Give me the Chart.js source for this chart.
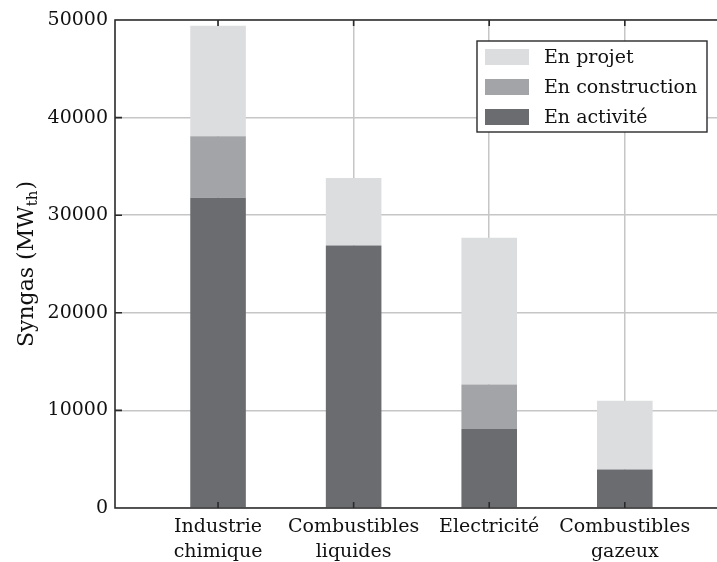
<!DOCTYPE html>
<html>
<head>
<meta charset="utf-8">
<script src="https://cdn.jsdelivr.net/npm/chart.js@4.4.1/dist/chart.umd.min.js"></script>
<style>
  html, body { margin: 0; padding: 0; background: #fff; }
</style>
</head>
<body>
<canvas id="chart" width="717" height="562"></canvas>
<script>
// data
const categories = [['Industrie', 'chimique'], ['Combustibles', 'liquides'], ['Electricité'], ['Combustibles', 'gazeux']];
const enActivite = [31800, 26900, 8100, 3950];
const enConstruction = [6300, 0, 4550, 0];
const enProjet = [11300, 6900, 15050, 7050];
const yTicks = [0, 10000, 20000, 30000, 40000, 50000];
const yTitle = 'Syngas (MW';
const yTitleSub = 'th';

const FONT = 'DejaVu Serif';
const INK = '#111';

function points(values) {
    return values.map((v, i) => ({ x: i + 1, y: v }));
}

// y title with a subscript, rotated
const yTitlePlugin = {
    id: 'yTitle',
    afterDraw(chart) {
        let ctx = chart.ctx, area = chart.chartArea;
        let big = '22px "' + FONT + '"', small = '15px "' + FONT + '"';
        ctx.save();
        ctx.font = big;
        let w1 = ctx.measureText(yTitle).width, w3 = ctx.measureText(')').width;
        ctx.font = small;
        let w2 = ctx.measureText(yTitleSub).width + 1;
        let total = w1 + w2 + w3;
        ctx.translate(33, (area.top + area.bottom) / 2);
        ctx.rotate(-Math.PI / 2);
        ctx.fillStyle = INK;
        ctx.textBaseline = 'alphabetic';
        ctx.textAlign = 'left';
        let x = -total / 2;
        ctx.font = big;
        ctx.fillText(yTitle, x, 0);
        ctx.font = small;
        ctx.fillText(yTitleSub, x + w1, 4);
        ctx.font = big;
        ctx.fillText(')', x + w1 + w2, 0);
        ctx.restore();
    }
};

// spines and inward tick marks
const framePlugin = {
    id: 'frame',
    afterDraw(chart) {
        let ctx = chart.ctx, a = chart.chartArea;
        let xs = chart.scales.x, ys = chart.scales.y;
        ctx.save();
        ctx.strokeStyle = '#2a2a2a';
        ctx.lineWidth = 1.6;
        ctx.beginPath();
        ctx.moveTo(a.right + 2, a.top);
        ctx.lineTo(a.left, a.top);
        ctx.lineTo(a.left, a.bottom);
        ctx.lineTo(a.right + 2, a.bottom);
        yTicks.forEach(v => {
            let py = ys.getPixelForValue(v);
            ctx.moveTo(a.left, py);
            ctx.lineTo(a.left + 7, py);
        });
        categories.forEach((c, i) => {
            let px = xs.getPixelForValue(i + 1);
            ctx.moveTo(px, a.top);
            ctx.lineTo(px, a.top + 6);
            ctx.moveTo(px, a.bottom);
            ctx.lineTo(px, a.bottom - 6);
        });
        ctx.stroke();
        ctx.restore();
    }
};

// boxed legend inside the plot, top right
const legendPlugin = {
    id: 'boxLegend',
    afterDraw(chart) {
        let ctx = chart.ctx, a = chart.chartArea;
        let items = chart.data.datasets.slice().reverse();
        let right = a.right - 10, top = a.top + 21;
        let left = 477, bottom = top + 91;
        ctx.save();
        ctx.fillStyle = '#fff';
        ctx.fillRect(left, top, right - left, bottom - top);
        ctx.strokeStyle = '#2a2a2a';
        ctx.lineWidth = 1.4;
        ctx.strokeRect(left, top, right - left, bottom - top);
        ctx.font = '19px "' + FONT + '"';
        ctx.textBaseline = 'middle';
        ctx.textAlign = 'left';
        items.forEach((ds, i) => {
            let cy = top + 16 + i * 30;
            ctx.fillStyle = ds.backgroundColor;
            ctx.fillRect(left + 8, cy - 8, 44, 16);
            ctx.fillStyle = INK;
            ctx.fillText(ds.label, left + 67, cy + 1);
        });
        ctx.restore();
    }
};

new Chart(document.getElementById('chart'), {
    type: 'bar',
    data: {
        datasets: [
            { label: 'En activité', data: points(enActivite), backgroundColor: '#6b6c70' },
            { label: 'En construction', data: points(enConstruction), backgroundColor: '#a3a4a7' },
            { label: 'En projet', data: points(enProjet), backgroundColor: '#dcdddf' }
        ]
    },
    options: {
        responsive: false,
        animation: false,
        devicePixelRatio: 1,
        layout: { padding: { top: 20, right: 0, left: 0, bottom: 0 } },
        datasets: {
            bar: { barPercentage: 0.41, categoryPercentage: 1, borderWidth: 0 }
        },
        plugins: {
            legend: { display: false },
            tooltip: { enabled: false }
        },
        scales: {
            x: {
                type: 'linear',
                stacked: true,
                offset: false,
                min: 0.24,
                max: 4.68,
                afterBuildTicks: s => { s.ticks = categories.map((c, i) => ({ value: i + 1 })); },
                afterFit: s => { s.height = 54; },
                grid: { color: '#c6c6c6', lineWidth: 1.5, drawTicks: false, offset: false },
                border: { display: false },
                ticks: {
                    padding: 7,
                    color: INK,
                    font: { family: FONT, size: 19, lineHeight: 1.3 },
                    maxRotation: 0,
                    autoSkip: false,
                    callback: v => categories[v - 1] || ''
                }
            },
            y: {
                stacked: true,
                min: 0,
                max: 50000,
                afterBuildTicks: s => { s.ticks = yTicks.map(v => ({ value: v })); },
                afterFit: s => { s.width = 115; },
                grid: { color: '#c6c6c6', lineWidth: 1.5, drawTicks: false },
                border: { display: false },
                ticks: {
                    padding: 7,
                    color: INK,
                    font: { family: FONT, size: 19 },
                    callback: v => String(v)
                }
            }
        }
    },
    plugins: [yTitlePlugin, framePlugin, legendPlugin]
});
</script>
</body>
</html>
